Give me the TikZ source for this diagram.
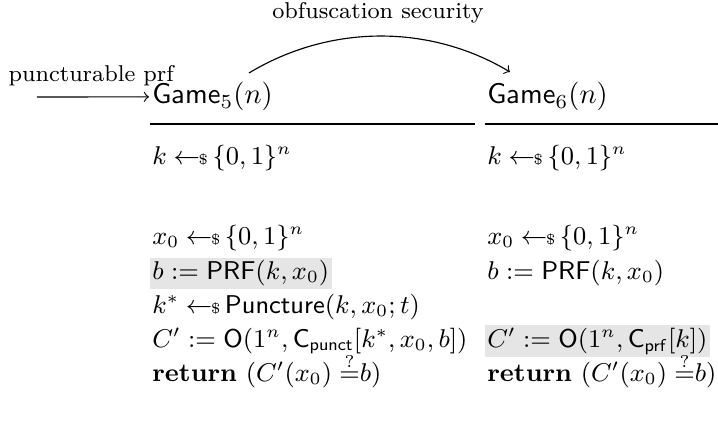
\documentclass[tikz,border=0pt]{standalone}
\usepackage{amsmath,amssymb}
\newcommand{\smpl}{\hskip2.3pt{\leftarrow\!\!\mbox{\tiny\$}}\,}
\begin{document}
\begin{tikzpicture}[x=0.35pt,y=-0.35pt,
  row/.style={anchor=base west,inner sep=1pt,font=\small},
  hl/.style={row,fill=gray!20},
  lbl/.style={font=\footnotesize,inner sep=0pt,anchor=base west},
  head/.style={anchor=base west,inner sep=1pt},
  rule/.style={line width=0.4pt},
  conn/.style={->}]
\useasboundingbox (0,0) rectangle (718,421);
% labels
\node[lbl] (prf) at (8,82) {puncturable prf};
\node[lbl,anchor=base] (obf) at (378,19) {obfuscation security};
% headers
\node[head] (g5) at (149,104) {$\mathsf{Game}_5(n)$};
\node[head] (g6) at (484,104) {$\mathsf{Game}_6(n)$};
% connectors
\coordinate (arrS) at (37,97);
\draw[conn] (arrS) -- (g5.west);
\coordinate (cs) at (249,73);
\coordinate (ce) at (510,72);
\draw[conn] (cs) .. controls (330,24) and (430,24) .. (ce);
% rules
\coordinate (r1a) at (150,124);
\coordinate (r1b) at (475,124);
\coordinate (r2a) at (485,124);
\coordinate (r2b) at (718,124);
\draw[rule] (r1a) -- (r1b);
\draw[rule] (r2a) -- (r2b);
% left column
\node[row] (l1) at (149,165) {$k \smpl \{0,1\}^n$};
\node[row] (l2) at (149,245) {$x_0 \smpl \{0,1\}^n$};
\node[hl]  (l3) at (149,280) {$b := \mathsf{PRF}(k,x_0)$};
\node[row] (l4) at (149,314) {$k^* \smpl \mathsf{Puncture}(k,x_0;t)$};
\node[row] (l5) at (149,348) {$C' := \mathsf{O}(1^n,\mathsf{C}_{\mathsf{punct}}[k^*,x_0,b])$};
\node[row] (l6) at (149,382) {\textbf{return} $(C'(x_0) \stackrel{?}{=}\mkern-5mu b)$};
% right column
\node[row] (r1) at (484,165) {$k \smpl \{0,1\}^n$};
\node[row] (r2) at (484,245) {$x_0 \smpl \{0,1\}^n$};
\node[row] (r3) at (484,280) {$b := \mathsf{PRF}(k,x_0)$};
\node[hl]  (r5) at (484,348) {$C' := \mathsf{O}(1^n,\mathsf{C}_{\mathsf{prf}}[k])$};
\node[row] (r6) at (484,382) {\textbf{return} $(C'(x_0) \stackrel{?}{=}\mkern-5mu b)$};
\end{tikzpicture}
\end{document}
